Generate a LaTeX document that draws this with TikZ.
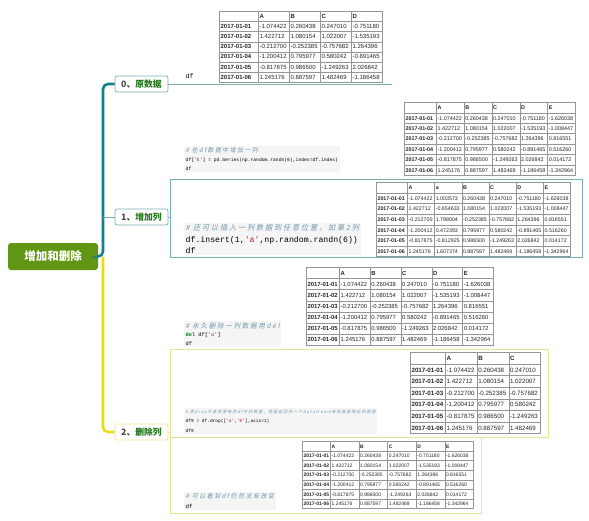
\documentclass[tikz,border=0pt]{standalone}
\usepackage{fontspec}
\setmainfont{Liberation Sans}
\newfontfamily\cjk{Noto Sans CJK SC}
\newfontfamily\cjkit{Noto Sans CJK SC}[FakeSlant=0.2,LetterSpace=25]
\newfontfamily\codefont{Liberation Mono}[Ligatures=TeXOff]
\usepackage{array}
\usepackage{colortbl}
\usepackage{tikz}
\usetikzlibrary{positioning}

\definecolor{rootgreen}{RGB}{96,150,20}
\definecolor{trunkteal}{RGB}{20,128,134}
\definecolor{trunkyellow}{RGB}{232,220,20}
\definecolor{tealedge}{RGB}{120,175,178}
\definecolor{yellowedge}{RGB}{232,228,150}
\definecolor{labelgreen}{RGB}{40,120,30}
\definecolor{cmtblue}{RGB}{110,150,170}
\definecolor{strred}{RGB}{186,33,33}
\definecolor{kwgreen}{RGB}{0,128,0}
\definecolor{codebg}{RGB}{245,245,245}
\definecolor{rulegray}{RGB}{150,150,150}

\newcolumntype{I}[1]{>{\bfseries}p{#1}}
\newcolumntype{V}[1]{p{#1}}
\setlength{\tabcolsep}{1pt}
\arrayrulecolor{rulegray}

% dataframe table: size, row skip, columns, body
\newcommand{\dftab}[4]{\fontsize{#1}{#2}\selectfont\begin{tabular}{#3}\hline#4\end{tabular}}
\newcommand{\cmt}[2]{{\cjkit\color{cmtblue}\fontsize{#1}{#1}\selectfont\# #2}}
\newcommand{\str}[1]{{\color{strred}#1}}

\begin{document}
\begin{tikzpicture}[x=1pt,y=-1pt,
    root/.style={fill=rootgreen, rounded corners=3pt, text=white, inner sep=0pt,
                 minimum width=90pt, minimum height=27pt,
                 font=\cjk\bfseries\fontsize{11.5}{12}\selectfont},
    branch/.style={draw=tealedge, fill=white, rounded corners=2pt, line width=0.7pt,
                   minimum width=53pt, minimum height=16pt, inner sep=0pt,
                   font=\cjk\bfseries\fontsize{8.8}{9}\selectfont},
    code/.style={fill=codebg, anchor=north west, align=left, inner sep=1.5pt},
    tbl/.style={anchor=north west, inner sep=0pt, text=black!85},
    subbox/.style={draw=tealedge, line width=0.7pt, anchor=north west, inner sep=0pt},
    trunk/.style={line width=2.6pt, rounded corners=5pt},
    twig/.style={line width=0.8pt}
]
\useasboundingbox (0,0) rectangle (589,520);

% topics
\node[root]   (root) at (53,256.5) {增加和删除};
\node[branch] (b0)   at (141.5,84)  {{\color{black!70}0、}{\color{labelgreen}原数据}};
\node[branch] (b1)   at (141.5,217) {{\color{black!70}1、}{\color{labelgreen}增加列}};
\node[branch, draw=yellowedge] (b2) at (141.5,432) {{\color{black!70}2、}{\color{labelgreen}删除列}};

\coordinate (hub) at (103,256.5);
\coordinate (e0)  at (392,84);
\coordinate (u2a) at (495,349);

% sub-topic frames
\node[subbox, minimum width=412pt, minimum height=78pt] (s1b) at (170,179) {};
\node[subbox, draw=yellowedge, minimum width=378pt, minimum height=88pt] (s2b) at (170,349) {};
\node[subbox, draw=yellowedge, minimum width=311pt, minimum height=76pt] (s2c) at (170,437) {};

% connectors
\draw[trunk, trunkteal] (root.east) -- (hub) |- (b0.west);
\draw[trunk, trunkyellow] (hub) |- (b2.west);
\draw[twig, tealedge] (hub |- b1.west) -- (b1.west);
\draw[twig, tealedge] (b0.east) -- (e0);
\draw[twig, tealedge] (b1.east) -- (b1.east -| s1b.west);
\draw[twig, yellowedge] (b2.east) -- (b2.east -| s2b.west);
\draw[twig, yellowedge] (s2b.north west) -- (u2a);

% code cells
\node[code, fill=none, font=\codefont\fontsize{6.5}{8}\selectfont] (c0) at (184,72) {df};
\node[code, font=\codefont\fontsize{4.7}{9}\selectfont] (c1a) at (184,146)
  {\cmt{5.9}{在df数据中增加一列}\\ df[\str{'E'}] = pd.Series(np.random.randn(6),index=df.index)\\ df};
\node[code, font=\codefont\fontsize{8.2}{11.5}\selectfont] (c1b) at (184,223)
  {\cmt{7.2}{还可以插入一列数据到任意位置，如第2列}\\ df.insert(1,\str{'a'},np.random.randn(6))\\ df};
\node[code, font=\codefont\fontsize{5.3}{8.5}\selectfont] (c2a) at (184,321)
  {\cmt{6.6}{永久删除一列数据用del}\\ {\color{kwgreen}\bfseries del} df[\str{'a'}]\\ df};
\node[code, font=\codefont\fontsize{4.5}{9.5}\selectfont] (c2b) at (184,408)
  {\cmt{4.0}{用drop不改变原有的df中的数据，而是返回另一个dataframe来存放删除后的数据}\\ df9 = df.drop([\str{'a'},\str{'E'}],axis=1)\\ df9};
\node[code, font=\codefont\fontsize{5.8}{9.5}\selectfont] (c2c) at (184,492)
  {\cmt{6.0}{可以看到df仍然没有改变}\\ df};

% dataframes
\node[tbl] (t0) at (219,11) {\dftab{6}{9.74}{|I{36.6pt}|V{28.6pt}|V{28.6pt}|V{28.6pt}|V{28.6pt}|}{
 & \textbf{A} & \textbf{B} & \textbf{C} & \textbf{D}\\\hline
2017-01-01 & -1.074422 & 0.260438 & 0.247010 & -0.751180\\\hline
2017-01-02 & 1.422712 & 1.080154 & 1.022007 & -1.535193\\\hline
2017-01-03 & -0.212700 & -0.252385 & -0.757682 & 1.264396\\\hline
2017-01-04 & -1.200412 & 0.795977 & 0.580242 & -0.891465\\\hline
2017-01-05 & -0.817875 & 0.986500 & -1.249263 & 2.026842\\\hline
2017-01-06 & 1.245176 & 0.887597 & 1.482469 & -1.186458\\\hline}};

\node[tbl] (t1a) at (404,102) {\dftab{5.4}{10}{|I{29.6pt}|V{25.4pt}|V{25.4pt}|V{25.4pt}|V{25.4pt}|V{25.4pt}|}{
 & \textbf{A} & \textbf{B} & \textbf{C} & \textbf{D} & \textbf{E}\\\hline
2017-01-01 & -1.074422 & 0.260438 & 0.247010 & -0.751180 & -1.626038\\\hline
2017-01-02 & 1.422712 & 1.080154 & 1.022007 & -1.535193 & -1.008447\\\hline
2017-01-03 & -0.212700 & -0.252385 & -0.757682 & 1.264396 & 0.816551\\\hline
2017-01-04 & -1.200412 & 0.795977 & 0.580242 & -0.891465 & 0.516260\\\hline
2017-01-05 & -0.817875 & 0.986500 & -1.249263 & 2.026842 & 0.014172\\\hline
2017-01-06 & 1.245176 & 0.887597 & 1.482469 & -1.186458 & -1.342964\\\hline}};

\node[tbl] (t1b) at (376,182) {\dftab{5.3}{10.2}{|I{28.6pt}|V{24.8pt}|V{24.8pt}|V{24.8pt}|V{24.8pt}|V{24.8pt}|V{24.8pt}|}{
 & \textbf{A} & \textbf{a} & \textbf{B} & \textbf{C} & \textbf{D} & \textbf{E}\\\hline
2017-01-01 & -1.074422 & 1.003573 & 0.260438 & 0.247010 & -0.751180 & -1.626038\\\hline
2017-01-02 & 1.422712 & -0.654633 & 1.080154 & 1.022007 & -1.535193 & -1.008447\\\hline
2017-01-03 & -0.212700 & 1.798004 & -0.252385 & -0.757682 & 1.264396 & 0.816551\\\hline
2017-01-04 & -1.200412 & 0.472393 & 0.795977 & 0.580242 & -0.891465 & 0.516260\\\hline
2017-01-05 & -0.817875 & -0.812925 & 0.986500 & -1.249263 & 2.026842 & 0.014172\\\hline
2017-01-06 & 1.245176 & 1.607374 & 0.887597 & 1.482469 & -1.186458 & -1.342964\\\hline}};

\node[tbl] (t2a) at (306,267) {\dftab{5.9}{10.7}{|I{30.6pt}|V{28.4pt}|V{28.4pt}|V{28.4pt}|V{28.4pt}|V{28.4pt}|}{
 & \textbf{A} & \textbf{B} & \textbf{C} & \textbf{D} & \textbf{E}\\\hline
2017-01-01 & -1.074422 & 0.260438 & 0.247010 & -0.751180 & -1.626038\\\hline
2017-01-02 & 1.422712 & 1.080154 & 1.022007 & -1.535193 & -1.008447\\\hline
2017-01-03 & -0.212700 & -0.252385 & -0.757682 & 1.264396 & 0.816551\\\hline
2017-01-04 & -1.200412 & 0.795977 & 0.580242 & -0.891465 & 0.516260\\\hline
2017-01-05 & -0.817875 & 0.986500 & -1.249263 & 2.026842 & 0.014172\\\hline
2017-01-06 & 1.245176 & 0.887597 & 1.482469 & -1.186458 & -1.342964\\\hline}};

\node[tbl] (t2b) at (410,352) {\dftab{6.2}{11.2}{|I{32.6pt}|V{29.3pt}|V{29.3pt}|V{29.3pt}|}{
 & \textbf{A} & \textbf{B} & \textbf{C}\\\hline
2017-01-01 & -1.074422 & 0.260438 & 0.247010\\\hline
2017-01-02 & 1.422712 & 1.080154 & 1.022007\\\hline
2017-01-03 & -0.212700 & -0.252385 & -0.757682\\\hline
2017-01-04 & -1.200412 & 0.795977 & 0.580242\\\hline
2017-01-05 & -0.817875 & 0.986500 & -1.249263\\\hline
2017-01-06 & 1.245176 & 0.887597 & 1.482469\\\hline}};

\node[tbl] (t2c) at (302,441) {\dftab{5}{9.2}{|I{25.6pt}|V{26.2pt}|V{26.2pt}|V{26.2pt}|V{26.2pt}|V{26.2pt}|}{
 & \textbf{A} & \textbf{B} & \textbf{C} & \textbf{D} & \textbf{E}\\\hline
2017-01-01 & -1.074422 & 0.260438 & 0.247010 & -0.751180 & -1.626038\\\hline
2017-01-02 & 1.422712 & 1.080154 & 1.022007 & -1.535193 & -1.008447\\\hline
2017-01-03 & -0.212700 & -0.252385 & -0.757682 & 1.264396 & 0.816551\\\hline
2017-01-04 & -1.200412 & 0.795977 & 0.580242 & -0.891465 & 0.516260\\\hline
2017-01-05 & -0.817875 & 0.986500 & -1.249263 & 2.026842 & 0.014172\\\hline
2017-01-06 & 1.245176 & 0.887597 & 1.482469 & -1.186458 & -1.342964\\\hline}};
\end{tikzpicture}
\end{document}
